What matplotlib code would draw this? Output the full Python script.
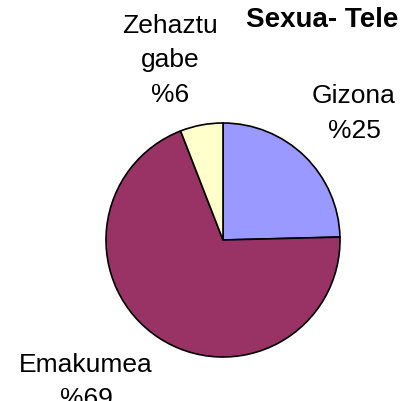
import matplotlib
matplotlib.use('Agg')
import matplotlib.pyplot as plt

# data
categories = ['Gizona', 'Emakumea', 'Zehaztu\ngabe']
values = [24.6, 69.5, 5.9]
pct_labels = ['%25', '%69', '%6']
colors = ['#9999FF', '#993366', '#FFFFCC']
title = 'Sexua- Tele'

plt.rcParams['font.family'] = ['Liberation Sans', 'DejaVu Sans']

W, H = 404, 401
fig = plt.figure(figsize=(W / 100, H / 100), dpi=100)

# pie centre and radius in pixels
cx, cy, r = 223, 240, 117
ax = fig.add_axes([(cx - r) / W, (H - cy - r) / H, 2 * r / W, 2 * r / H])
ax.pie(values, colors=colors, startangle=90, counterclock=False,
       wedgeprops=dict(edgecolor='black', linewidth=1.2))
ax.set_xlim(-1.0, 1.0)
ax.set_ylim(-1.0, 1.0)
ax.set_aspect('equal')
ax.axis('off')

# label anchor: centre x and first baseline (pixels from top-left)
label_pos = [(354, 103), (86, 372), (170, 33)]
line_step = 34.5
for cat, pct, (x, y0) in zip(categories, pct_labels, label_pos):
    lines = cat.split('\n') + [pct]
    for i, line in enumerate(lines):
        fig.text(x / W, 1 - (y0 + i * line_step) / H, line, ha='center',
                 va='baseline', fontsize=19)

fig.text(322 / W, 1 - 27 / H, title, ha='center', va='baseline',
         fontsize=20, fontweight='bold')

fig.savefig('out.png', dpi=100)
